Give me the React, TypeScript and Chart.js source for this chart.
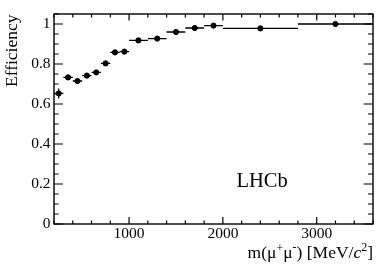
import React, { useEffect, useRef } from "react";
import { Chart, registerables } from "chart.js";

Chart.register(...registerables);

// ---- Data ----
const binEdges = [200, 300, 400, 500, 600, 700, 800, 900, 1000, 1200, 1400, 1600, 1800, 2000, 2800, 3600];
const efficiency = [0.653, 0.733, 0.715, 0.742, 0.758, 0.803, 0.858, 0.862, 0.918, 0.927, 0.96, 0.98, 0.992, 0.978, 1.0];
const effError = [0.025, 0.012, 0.012, 0.012, 0.012, 0.012, 0.011, 0.011, 0.008, 0.008, 0.006, 0.005, 0.005, 0.005, 0.004];
const xTickValues = [1000, 2000, 3000];
const yTickValues = [0, 0.2, 0.4, 0.6, 0.8, 1];
const yTitle = "Efficiency";
const experimentLabel = "LHCb";

const SERIF = "'Liberation Serif', 'Times New Roman', serif";

const physPlugin = {
  id: "physStyle",
  beforeDatasetsDraw(chart: any) {
    const ctx = chart.ctx;
    const xs = chart.scales.x;
    const ys = chart.scales.y;
    const ca = chart.chartArea;
    ctx.save();
    ctx.beginPath();
    ctx.rect(ca.left, ca.top, ca.right - ca.left, ca.bottom - ca.top);
    ctx.clip();
    ctx.strokeStyle = "#000";
    ctx.lineWidth = 1.3;
    efficiency.forEach((e, i) => {
      const lo = binEdges[i];
      const hi = binEdges[i + 1];
      const x0 = xs.getPixelForValue(lo);
      const x1 = xs.getPixelForValue(hi);
      const xc = xs.getPixelForValue((lo + hi) / 2);
      const y = ys.getPixelForValue(e);
      const yl = ys.getPixelForValue(e - effError[i]);
      const yh = ys.getPixelForValue(e + effError[i]);
      ctx.beginPath();
      ctx.moveTo(x0, y);
      ctx.lineTo(x1, y);
      ctx.moveTo(xc, yl);
      ctx.lineTo(xc, yh);
      ctx.stroke();
    });
    ctx.restore();
  },
  afterDraw(chart: any) {
    const ctx = chart.ctx;
    const xs = chart.scales.x;
    const ys = chart.scales.y;
    const { left, right, top, bottom } = chart.chartArea;
    ctx.save();
    ctx.strokeStyle = "#000";
    ctx.lineWidth = 1.2;
    // ticks
    ctx.beginPath();
    for (let v = xs.min; v <= xs.max + 1e-6; v += 200) {
      const px = xs.getPixelForValue(v);
      const major = Math.abs(v % 1000) < 1e-6;
      const lb = major ? 7 : 3.5;
      const lt = major ? 6.5 : 3.5;
      ctx.moveTo(px, bottom);
      ctx.lineTo(px, bottom - lb);
      ctx.moveTo(px, top);
      ctx.lineTo(px, top + lt);
    }
    for (let k = 0; k * 0.05 <= ys.max + 1e-9; k++) {
      const v = k * 0.05;
      const py = ys.getPixelForValue(v);
      const major = k % 4 === 0;
      const ll = major ? 9 : 4.5;
      const lr = major ? 9.5 : 5;
      ctx.moveTo(left, py);
      ctx.lineTo(left + ll, py);
      ctx.moveTo(right, py);
      ctx.lineTo(right - lr, py);
    }
    ctx.stroke();
    // frame
    ctx.lineWidth = 1.4;
    ctx.strokeRect(left, top, right - left, bottom - top);

    ctx.fillStyle = "#000";
    // LHCb label
    ctx.font = `20.5px ${SERIF}`;
    ctx.textAlign = "left";
    ctx.textBaseline = "alphabetic";
    ctx.fillText(experimentLabel, 236.5, 186.7);

    // y title
    ctx.save();
    ctx.translate(16.5, 14.5);
    ctx.rotate(-Math.PI / 2);
    ctx.font = `17.5px ${SERIF}`;
    ctx.textAlign = "right";
    ctx.fillText(yTitle, 0, 0);
    ctx.restore();

    // x title: m(μ⁺μ⁻) [MeV/c²]
    const base = 257.5;
    const big = `17.5px ${SERIF}`;
    const small = `12px ${SERIF}`;
    const ital = `italic 17.5px ${SERIF}`;
    const parts: [string, string, number][] = [
      ["m(\u03BC", big, 0],
      ["+", small, -6],
      ["\u03BC", big, 0],
      ["-", small, -6.5],
      [") [MeV/", big, 0],
      ["c", ital, 0],
      ["2", small, -7],
      ["]", big, 0],
    ];
    let total = 0;
    for (const [t, f] of parts) {
      ctx.font = f;
      total += ctx.measureText(t).width;
    }
    let x = right - total;
    ctx.textAlign = "left";
    for (const [t, f, dy] of parts) {
      ctx.font = f;
      ctx.fillText(t, x, base + dy);
      x += ctx.measureText(t).width;
    }
    ctx.restore();
  },
};

export default function App() {
  const ref = useRef<HTMLCanvasElement | null>(null);

  useEffect(() => {
    document.body.style.margin = "0";
    const canvas = ref.current;
    if (!canvas) return;
    const points = efficiency.map((e, i) => ({ x: (binEdges[i] + binEdges[i + 1]) / 2, y: e }));
    const chart = new Chart(canvas, {
      type: "scatter",
      data: {
        datasets: [
          {
            label: yTitle,
            data: points,
            backgroundColor: "#000",
            borderColor: "#000",
            pointRadius: 2.6,
            pointHoverRadius: 2.6,
            showLine: false,
          },
        ],
      },
      options: {
        responsive: false,
        devicePixelRatio: 1,
        animation: false,
        layout: { padding: { top: 14, right: 19, left: 0, bottom: 0 } },
        plugins: { legend: { display: false }, tooltip: { enabled: false } },
        scales: {
          x: {
            type: "linear",
            min: binEdges[0],
            max: binEdges[binEdges.length - 1],
            grid: { display: false, drawTicks: false },
            border: { display: false },
            afterBuildTicks: (s: any) => {
              s.ticks = xTickValues.map((v) => ({ value: v }));
            },
            afterFit: (s: any) => {
              s.height = 43;
            },
            ticks: {
              autoSkip: false,
              maxRotation: 0,
              padding: 1,
              color: "#000",
              font: { family: SERIF, size: 15.5 },
              callback: (v: any) => String(v),
            },
          },
          y: {
            type: "linear",
            min: 0,
            max: 1.05,
            grid: { display: false, drawTicks: false },
            border: { display: false },
            afterBuildTicks: (s: any) => {
              s.ticks = yTickValues.map((v) => ({ value: v }));
            },
            afterFit: (s: any) => {
              s.width = 54;
            },
            ticks: {
              autoSkip: false,
              padding: 3.5,
              color: "#000",
              font: { family: SERIF, size: 15.5 },
              callback: (v: any) => String(Math.round(Number(v) * 10) / 10),
            },
          },
        },
      },
      plugins: [physPlugin],
    } as any);
    return () => chart.destroy();
  }, []);

  return (
    <div style={{ width: 392, height: 267, background: "#fff" }}>
      <canvas ref={ref} width={392} height={267} style={{ display: "block", width: 392, height: 267 }} />
    </div>
  );
}
